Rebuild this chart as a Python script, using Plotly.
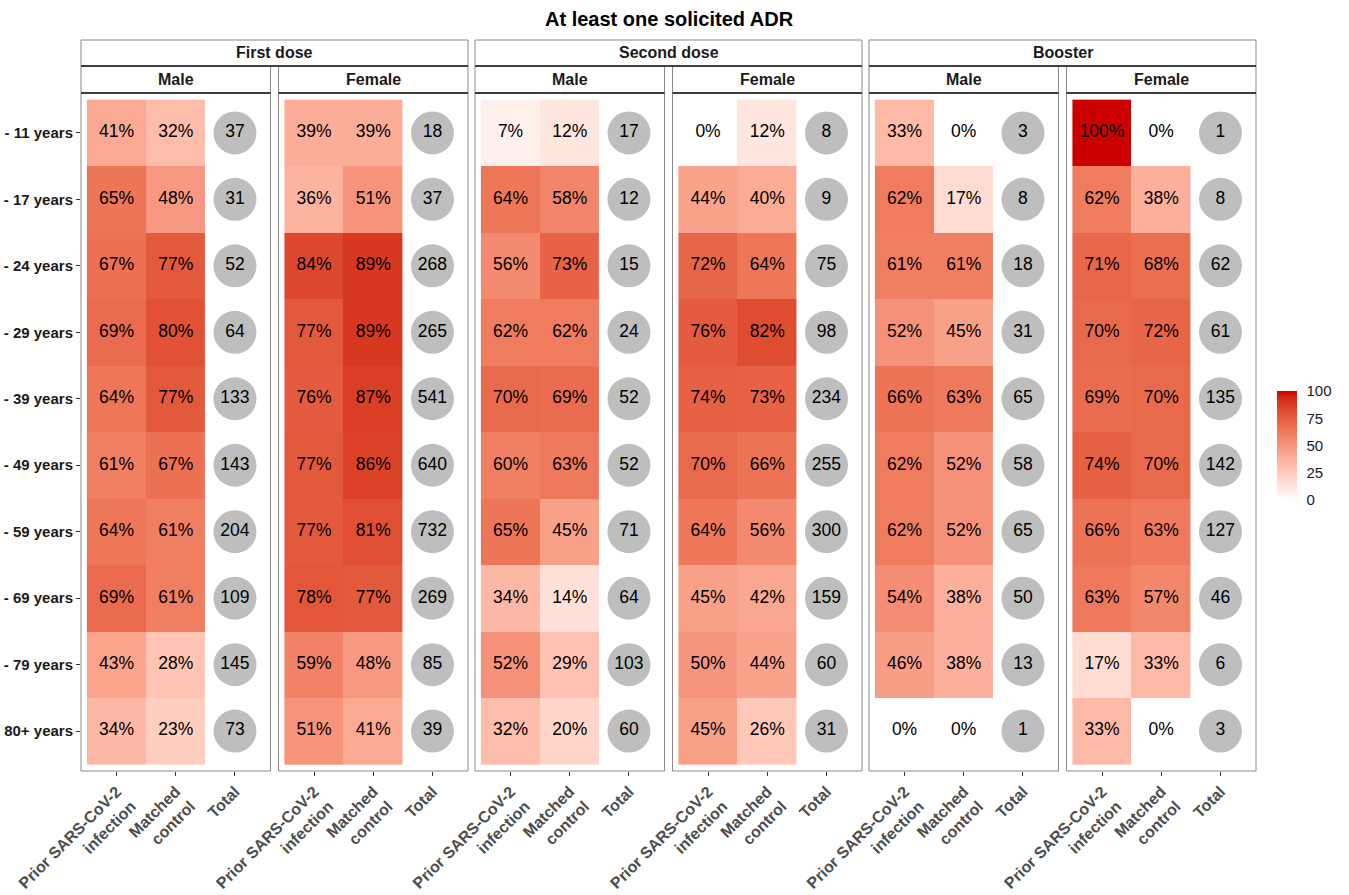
import plotly.graph_objects as go

W, H = 1349, 895

age_groups = ["- 11 years", "- 17 years", "- 24 years", "- 29 years", "- 39 years",
              "- 49 years", "- 59 years", "- 69 years", "- 79 years", "80+ years"]
columns = ["Prior SARS-CoV-2<br>infection", "Matched<br>control", "Total"]
doses = ["First dose", "Second dose", "Booster"]
sexes = ["Male", "Female"]

# First dose
first_male_prior = [41, 65, 67, 69, 64, 61, 64, 69, 43, 34]
first_male_matched = [32, 48, 77, 80, 77, 67, 61, 61, 28, 23]
first_male_total = [37, 31, 52, 64, 133, 143, 204, 109, 145, 73]
first_female_prior = [39, 36, 84, 77, 76, 77, 77, 78, 59, 51]
first_female_matched = [39, 51, 89, 89, 87, 86, 81, 77, 48, 41]
first_female_total = [18, 37, 268, 265, 541, 640, 732, 269, 85, 39]
# Second dose
second_male_prior = [7, 64, 56, 62, 70, 60, 65, 34, 52, 32]
second_male_matched = [12, 58, 73, 62, 69, 63, 45, 14, 29, 20]
second_male_total = [17, 12, 15, 24, 52, 52, 71, 64, 103, 60]
second_female_prior = [0, 44, 72, 76, 74, 70, 64, 45, 50, 45]
second_female_matched = [12, 40, 64, 82, 73, 66, 56, 42, 44, 26]
second_female_total = [8, 9, 75, 98, 234, 255, 300, 159, 60, 31]
# Booster
booster_male_prior = [33, 62, 61, 52, 66, 62, 62, 54, 46, 0]
booster_male_matched = [0, 17, 61, 45, 63, 52, 52, 38, 38, 0]
booster_male_total = [3, 8, 18, 31, 65, 58, 65, 50, 13, 1]
booster_female_prior = [100, 62, 71, 70, 69, 74, 66, 63, 17, 33]
booster_female_matched = [0, 38, 68, 72, 70, 70, 63, 57, 33, 0]
booster_female_total = [1, 8, 62, 61, 135, 142, 127, 46, 6, 3]

panels = [
    (first_male_prior, first_male_matched, first_male_total),
    (first_female_prior, first_female_matched, first_female_total),
    (second_male_prior, second_male_matched, second_male_total),
    (second_female_prior, second_female_matched, second_female_total),
    (booster_male_prior, booster_male_matched, booster_male_total),
    (booster_female_prior, booster_female_matched, booster_female_total),
]

colorbar_ticks = [0, 25, 50, 75, 100]


# ---- Lab gradient white -> red3 (like ggplot scale_fill_gradient) ----
def _lin(c):
    c = c / 255.0
    return c / 12.92 if c <= 0.04045 else ((c + 0.055) / 1.055) ** 2.4


def _delin(c):
    v = 12.92 * c if c <= 0.0031308 else 1.055 * c ** (1 / 2.4) - 0.055
    return max(0, min(255, round(v * 255)))


WX, WY, WZ = 0.95047, 1.0, 1.08883


def _f(t):
    return t ** (1 / 3) if t > 0.008856 else 7.787 * t + 16 / 116


def _finv(t):
    return t ** 3 if t ** 3 > 0.008856 else (t - 16 / 116) / 7.787


def rgb2lab(rgb):
    r, g, b = [_lin(v) for v in rgb]
    x = 0.4124 * r + 0.3576 * g + 0.1805 * b
    y = 0.2126 * r + 0.7152 * g + 0.0722 * b
    z = 0.0193 * r + 0.1192 * g + 0.9505 * b
    fx, fy, fz = _f(x / WX), _f(y / WY), _f(z / WZ)
    return (116 * fy - 16, 500 * (fx - fy), 200 * (fy - fz))


def lab2rgb(lab):
    L, a, bb = lab
    fy = (L + 16) / 116
    fx = fy + a / 500
    fz = fy - bb / 200
    x, y, z = WX * _finv(fx), WY * _finv(fy), WZ * _finv(fz)
    r = 3.2406 * x - 1.5372 * y - 0.4986 * z
    g = -0.9689 * x + 1.8758 * y + 0.0415 * z
    b = 0.0557 * x - 0.2040 * y + 1.0570 * z
    return "rgb(%d,%d,%d)" % (_delin(r), _delin(g), _delin(b))


low, high = rgb2lab((255, 255, 255)), rgb2lab((205, 0, 0))
nstops = 21
colorscale = []
for i in range(nstops):
    t = i / (nstops - 1)
    lab = tuple(low[k] + (high[k] - low[k]) * t for k in range(3))
    colorscale.append([t, lab2rgb(lab)])

# ---- layout geometry (screen pixels) ----
dose_x0 = [81, 475, 869]
dose_w = 387
sex_gap = 8
panel_w = (dose_w - sex_gap) / 2
strip1_top, strip1_bot = 40, 66
strip2_bot = 93
panel_bot = 771


def px(x):
    return x / W


def py(y):
    return 1 - y / H


FONT = "Liberation Sans, Arial, sans-serif"
BORDER = "#8a8a8a"

fig = go.Figure()
layout = dict(
    width=W, height=H, margin=dict(l=0, r=0, t=0, b=0, pad=0),
    paper_bgcolor="white", plot_bgcolor="white", showlegend=False,
    font=dict(family=FONT),
)
shapes = []
annotations = []

panel_bounds = []
for d in range(3):
    x0 = dose_x0[d]
    for s in range(2):
        a = x0 + s * (panel_w + sex_gap)
        panel_bounds.append((a, a + panel_w))

for k, (prior, matched, total) in enumerate(panels):
    a, b = panel_bounds[k]
    idx = k + 1
    xa = "x" if idx == 1 else "x%d" % idx
    ya = "y" if idx == 1 else "y%d" % idx
    rows = list(range(len(age_groups)))
    z = [[prior[i], matched[i]] for i in rows]
    fig.add_trace(go.Heatmap(
        z=z, x=[0, 1], y=rows, xaxis=xa, yaxis=ya,
        colorscale=colorscale, zmin=0, zmax=100,
        showscale=(k == 0), hoverinfo="skip",
        colorbar=dict(
            x=px(1277), xanchor="left", y=py(445.5), yanchor="middle",
            len=109, lenmode="pixels", thickness=20, thicknessmode="pixels",
            outlinewidth=0, xpad=0, ypad=0,
            tickvals=colorbar_ticks, ticks="outside", ticklen=7,
            tickcolor="rgba(255,255,255,0)", tickwidth=1,
            tickfont=dict(size=15, color="#1a1a1a", family=FONT),
        ),
    ))
    # percentage labels
    tx, ty, tt = [], [], []
    for i in rows:
        for c, vals in enumerate([prior, matched]):
            tx.append(c)
            ty.append(i)
            tt.append("%d%%" % vals[i])
    fig.add_trace(go.Scatter(
        x=tx, y=ty, text=tt, mode="text", xaxis=xa, yaxis=ya,
        textfont=dict(size=17.5, color="black", family=FONT), hoverinfo="skip",
    ))
    # totals circles
    fig.add_trace(go.Scatter(
        x=[2] * len(rows), y=rows, text=[str(v) for v in total],
        mode="markers+text", xaxis=xa, yaxis=ya,
        marker=dict(size=43, color="#bebebe", line=dict(width=0)),
        textposition="middle center",
        textfont=dict(size=17.5, color="black", family=FONT), hoverinfo="skip",
    ))

    layout["xaxis" if idx == 1 else "xaxis%d" % idx] = dict(
        domain=[px(a), px(b)], range=[-0.6, 2.6], anchor=ya,
        tickvals=[0, 1, 2], ticktext=["<b>%s</b>" % c for c in columns], tickangle=-45,
        ticks="outside", ticklen=4, tickcolor="#333333",
        tickfont=dict(size=16, color="#4d4d4d", family=FONT),
        showgrid=False, zeroline=False, showline=False, automargin=False,
        fixedrange=True,
    )
    ydict = dict(
        domain=[py(panel_bot), py(strip2_bot)], range=[9.6, -0.6], anchor=xa,
        showgrid=False, zeroline=False, showline=False, automargin=False,
        fixedrange=True,
    )
    if idx == 1:
        ydict.update(tickvals=list(range(len(age_groups))),
                     ticktext=["<b>%s</b>" % g for g in age_groups],
                     ticks="outside", ticklen=4, tickcolor="#333333",
                     tickfont=dict(size=15, color="#1a1a1a", family=FONT))
    else:
        ydict.update(showticklabels=False, ticks="")
    layout["yaxis" if idx == 1 else "yaxis%d" % idx] = ydict

    # panel border
    shapes.append(dict(type="rect", xref="paper", yref="paper",
                       x0=px(a), x1=px(b), y0=py(panel_bot), y1=py(strip2_bot),
                       line=dict(color=BORDER, width=1), fillcolor="rgba(0,0,0,0)"))
    # sex strip
    shapes.append(dict(type="rect", xref="paper", yref="paper",
                       x0=px(a), x1=px(b), y0=py(strip2_bot), y1=py(strip1_bot),
                       line=dict(color=BORDER, width=1), fillcolor="white", layer="below"))
    shapes.append(dict(type="line", xref="paper", yref="paper",
                       x0=px(a), x1=px(b), y0=py(strip2_bot), y1=py(strip2_bot),
                       line=dict(color="#1a1a1a", width=1.5)))
    annotations.append(dict(text="<b>%s</b>" % sexes[k % 2], xref="paper", yref="paper",
                            x=px((a + b) / 2), y=py((strip1_bot + strip2_bot) / 2),
                            showarrow=False, xanchor="center", yanchor="middle",
                            font=dict(size=16, color="#1a1a1a", family=FONT)))

for d in range(3):
    a = dose_x0[d]
    b = a + dose_w
    shapes.append(dict(type="rect", xref="paper", yref="paper",
                       x0=px(a), x1=px(b), y0=py(strip1_bot), y1=py(strip1_top),
                       line=dict(color=BORDER, width=1), fillcolor="white", layer="below"))
    shapes.append(dict(type="line", xref="paper", yref="paper",
                       x0=px(a), x1=px(b), y0=py(strip1_bot), y1=py(strip1_bot),
                       line=dict(color="#1a1a1a", width=1.5)))
    annotations.append(dict(text="<b>%s</b>" % doses[d], xref="paper", yref="paper",
                            x=px((a + b) / 2), y=py((strip1_top + strip1_bot) / 2),
                            showarrow=False, xanchor="center", yanchor="middle",
                            font=dict(size=16, color="#1a1a1a", family=FONT)))

annotations.append(dict(text="<b>At least one solicited ADR</b>", xref="paper", yref="paper",
                        x=px(669), y=py(19), showarrow=False, xanchor="center",
                        yanchor="middle", font=dict(size=20, color="black", family=FONT)))

layout["shapes"] = shapes
layout["annotations"] = annotations
fig.update_layout(**layout)
fig.write_html("out.html", config={"displayModeBar": False},
               post_script="document.body.style.margin='0';document.body.style.overflow='hidden';")
